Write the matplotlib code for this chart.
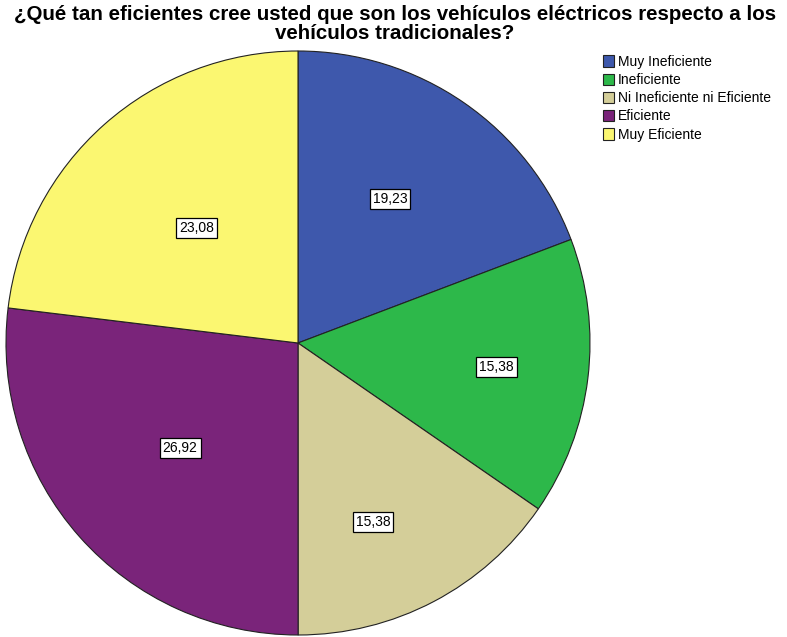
import matplotlib
matplotlib.use("Agg")
import matplotlib.pyplot as plt
import numpy as np

categories = ["Muy Ineficiente", "Ineficiente", "Ni Ineficiente ni Eficiente", "Eficiente", "Muy Eficiente"]
values = [19.23, 15.38, 15.38, 26.92, 23.08]
colors = ["#3e58ac", "#2db84a", "#d4ce99", "#7a247a", "#fbf771"]
title = "¿Qué tan eficientes cree usted que son los vehículos eléctricos respecto a los\nvehículos tradicionales?"

# label placement inside each slice: radius fraction and angle nudge (degrees)
LABEL_RADII = [0.585, 0.685, 0.665, 0.54, 0.525]
LABEL_NUDGE = [2.0, 0.0, -5.0, 0.0, 0.0]

plt.rcParams["font.family"] = ["Liberation Sans", "DejaVu Sans"]

W, H = 787, 637
fig = plt.figure(figsize=(W / 100, H / 100), dpi=100)
cx, cy, r = 298, 343, 292
ax = fig.add_axes([(cx - r) / W, (H - cy - r) / H, 2 * r / W, 2 * r / H])

wedges, _ = ax.pie(
    values,
    colors=colors,
    startangle=90,
    counterclock=False,
    wedgeprops={"edgecolor": "#222222", "linewidth": 0.8},
)
for wedge, value, rad, nudge in zip(wedges, values, LABEL_RADII, LABEL_NUDGE):
    mid = np.deg2rad((wedge.theta1 + wedge.theta2) / 2 + nudge)
    ax.text(
        rad * np.cos(mid),
        rad * np.sin(mid),
        f"{value:.2f}".replace(".", ","),
        ha="center",
        va="center",
        fontsize=10,
        bbox={"boxstyle": "square,pad=0.22", "facecolor": "white", "edgecolor": "black", "linewidth": 0.9},
    )
ax.set_xlim(-1, 1)
ax.set_ylim(-1, 1)
ax.set_aspect("equal")

fig.text(0.502, 1 - 5 / H, title, ha="center", va="top", fontsize=14.8, fontweight="bold", linespacing=0.98)

fig.legend(
    wedges,
    categories,
    loc="upper left",
    bbox_to_anchor=(603 / W, 1 - 55 / H),
    frameon=False,
    fontsize=10,
    handlelength=0.8,
    handleheight=0.9,
    handletextpad=0.25,
    labelspacing=0.3,
    borderaxespad=0,
    borderpad=0,
)

fig.savefig("out.png", dpi=100)
